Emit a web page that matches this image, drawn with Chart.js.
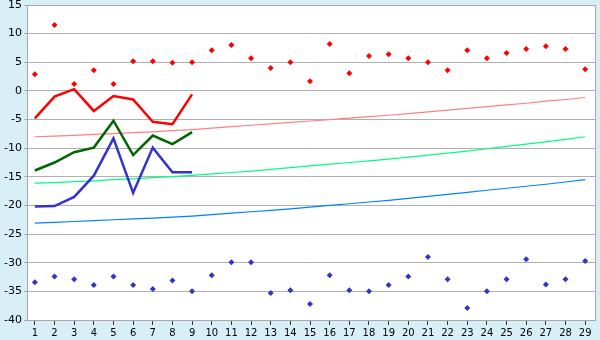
<!DOCTYPE html>
<html>
<head>
<meta charset="utf-8">
<script src="https://cdn.jsdelivr.net/npm/chart.js@4"></script>
<style>
  html, body { margin: 0; padding: 0; background: #d8eff7; }
  #wrap { width: 600px; height: 340px; }
</style>
</head>
<body>
<div id="wrap"><canvas id="grafico"></canvas></div>
<script>
// dias del mes
const dias = [1,2,3,4,5,6,7,8,9,10,11,12,13,14,15,16,17,18,19,20,21,22,23,24,25,26,27,28,29];

// maximas y minimas diarias (puntos)
const maxDiaria = [2.9,11.5,1.2,3.6,1.2,5.2,5.2,4.9,5.0,7.1,8.0,5.7,4.0,5.0,1.7,8.2,3.1,6.1,6.4,5.7,5.0,3.6,7.1,5.7,6.6,7.3,7.8,7.3,3.8];
const minDiaria = [-33.4,-32.4,-32.9,-33.9,-32.4,-33.9,-34.6,-33.1,-35.0,-32.2,-29.9,-29.9,-35.3,-34.8,-37.2,-32.2,-34.8,-35.0,-33.9,-32.4,-29.0,-32.9,-37.9,-35.0,-32.9,-29.4,-33.8,-32.9,-29.7];

// valores del mes actual (dias 1-9)
const maxActual = [-4.8,-1.0,0.3,-3.5,-0.9,-1.5,-5.4,-5.8,-0.6];
const mediaActual = [-13.9,-12.5,-10.7,-9.9,-5.2,-11.2,-7.8,-9.3,-7.2];
const minActual = [-20.2,-20.1,-18.5,-14.8,-8.3,-17.8,-9.9,-14.2,-14.2];

// normales
const maxNormal = [-8.0,-7.9,-7.75,-7.6,-7.45,-7.3,-7.15,-6.95,-6.75,-6.5,-6.25,-6.0,-5.75,-5.5,-5.25,-5.0,-4.75,-4.5,-4.25,-3.95,-3.65,-3.35,-3.05,-2.75,-2.45,-2.15,-1.8,-1.5,-1.15];
const mediaNormal = [-16.1,-16.0,-15.85,-15.7,-15.5,-15.35,-15.15,-14.95,-14.75,-14.5,-14.25,-14.0,-13.7,-13.4,-13.1,-12.8,-12.5,-12.2,-11.9,-11.55,-11.2,-10.85,-10.5,-10.1,-9.7,-9.3,-8.9,-8.45,-8.0];
const minNormal = [-23.1,-22.95,-22.8,-22.65,-22.5,-22.35,-22.2,-22.05,-21.85,-21.6,-21.35,-21.1,-20.85,-20.6,-20.3,-20.0,-19.7,-19.4,-19.1,-18.75,-18.4,-18.05,-17.7,-17.35,-17.0,-16.65,-16.3,-15.9,-15.5];

const yTicks = [15,10,5,0,-5,-10,-15,-20,-25,-30,-35,-40];

const puntos = (vals) => vals.map((v, i) => ({ x: dias[i], y: v }));

const fondo = {
  id: 'fondo',
  beforeDraw(chart) {
    const { ctx, chartArea: a } = chart;
    ctx.save();
    ctx.fillStyle = '#d8eff7';
    ctx.fillRect(0, 0, chart.width, chart.height);
    ctx.fillStyle = '#ffffff';
    ctx.fillRect(a.left, a.top, a.right - a.left, a.bottom - a.top);
    ctx.restore();
  },
  afterDraw(chart) {
    const { ctx, chartArea: a } = chart;
    ctx.save();
    ctx.strokeStyle = '#a8a8a8';
    ctx.lineWidth = 1;
    ctx.strokeRect(Math.round(a.left) + 0.5, Math.round(a.top) + 0.5, Math.round(a.right - a.left), Math.round(a.bottom - a.top));
    ctx.restore();
  }
};

const linea = (label, vals, color, width, order) => ({
  type: 'line',
  label: label,
  data: puntos(vals),
  borderColor: color,
  backgroundColor: color,
  borderWidth: width,
  pointRadius: 0,
  tension: 0,
  fill: false,
  order: order
});

const marcas = (label, vals, color, order) => ({
  type: 'scatter',
  label: label,
  data: puntos(vals),
  borderColor: color,
  backgroundColor: color,
  pointStyle: 'rectRot',
  pointRadius: 3,
  borderWidth: 0,
  showLine: false,
  order: order
});

const data = {
  datasets: [
    marcas('Max diaria', maxDiaria, '#ff0000', 1),
    marcas('Min diaria', minDiaria, '#3333cc', 1),
    linea('Max', maxActual, '#ff0000', 2.5, 2),
    linea('Media', mediaActual, '#006600', 2.5, 2),
    linea('Min', minActual, '#3333cc', 2.5, 2),
    linea('Max normal', maxNormal, '#ff8080', 1.2, 3),
    linea('Media normal', mediaNormal, '#00ff80', 1.2, 3),
    linea('Min normal', minNormal, '#0080ff', 1.2, 3)
  ]
};

const config = {
  type: 'scatter',
  data: data,
  plugins: [fondo],
  options: {
    responsive: false,
    animation: false,
    layout: { padding: { top: 5, right: 5, left: 0, bottom: 0 } },
    plugins: {
      legend: { display: false },
      tooltip: { enabled: false }
    },
    scales: {
      x: {
        type: 'linear',
        min: 0.6,
        max: 29.5,
        afterBuildTicks: (scale) => { scale.ticks = dias.map(d => ({ value: d })); },
        afterFit: (scale) => { scale.height = 20; },
        ticks: {
          color: '#000000',
          font: { family: 'DejaVu Sans', size: 10 },
          padding: 2,
          maxRotation: 0,
          autoSkip: false
        },
        grid: { drawOnChartArea: false, drawTicks: true, tickLength: 5, color: '#333333' },
        border: { display: true, color: '#a8a8a8' }
      },
      y: {
        min: -40,
        max: 15,
        afterBuildTicks: (scale) => { scale.ticks = yTicks.map(v => ({ value: v })); },
        afterFit: (scale) => {
          scale.width = 27;
          scale.paddingTop = 0;
          scale.paddingBottom = 0;
        },
        ticks: {
          color: '#000000',
          font: { family: 'DejaVu Sans', size: 11 },
          padding: 2
        },
        grid: { color: '#b0b0b0', tickLength: 3, lineWidth: 1 },
        border: { display: true, color: '#a8a8a8' }
      }
    }
  }
};

const canvas = document.getElementById('grafico');
canvas.width = 600;
canvas.height = 340;
new Chart(canvas.getContext('2d'), config);
</script>
</body>
</html>
